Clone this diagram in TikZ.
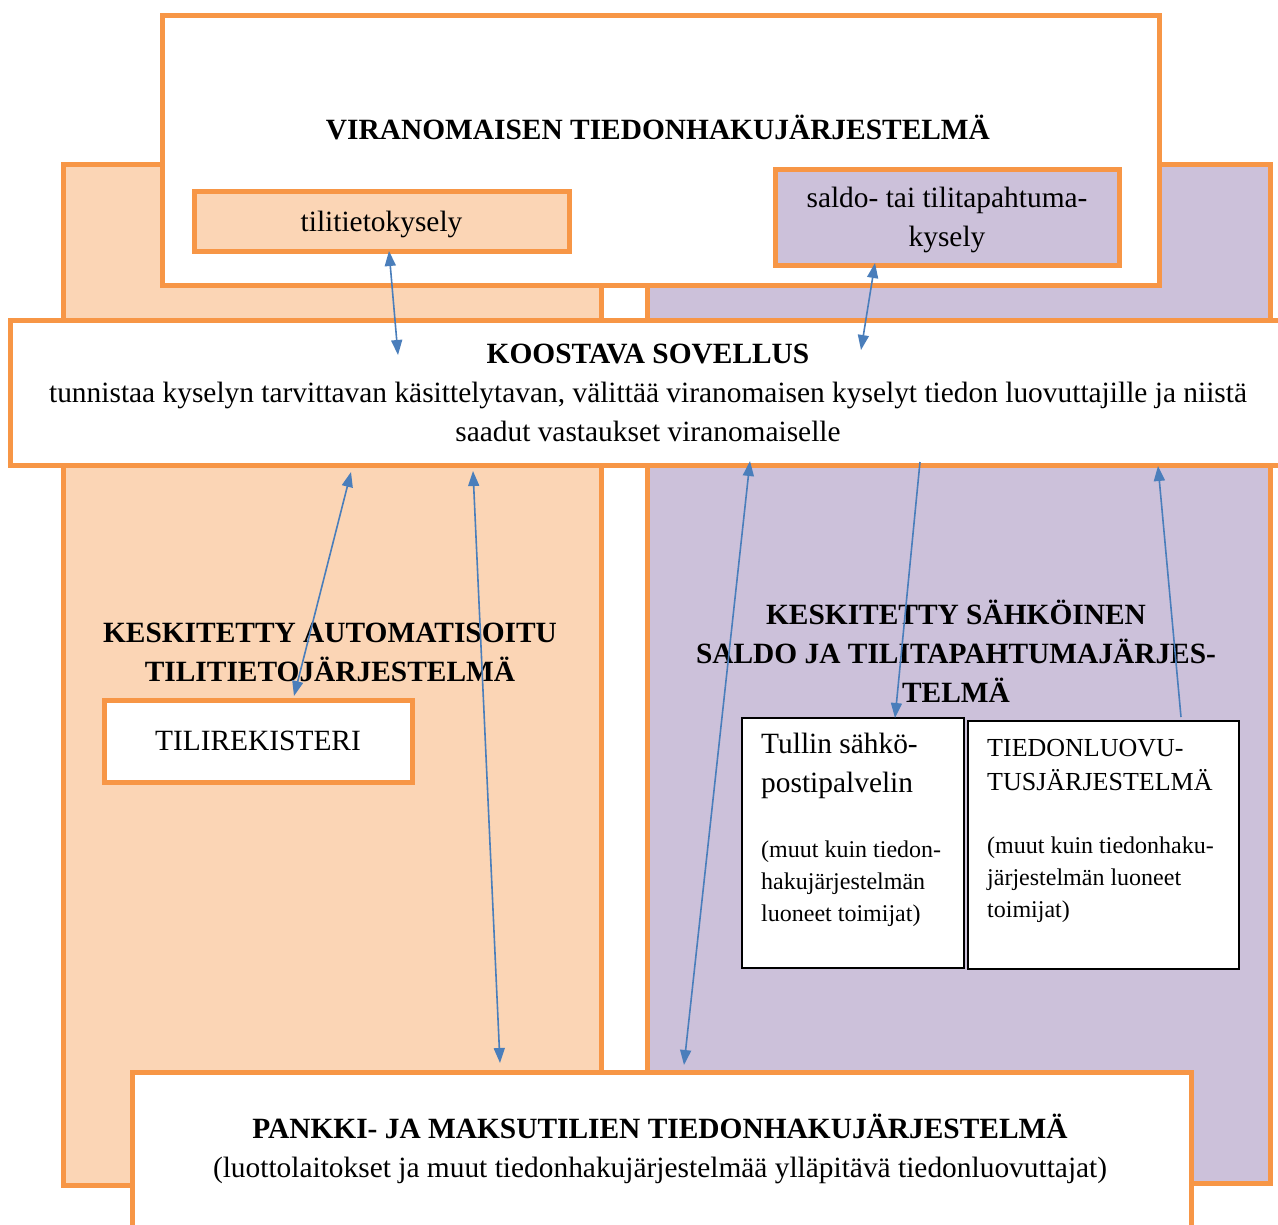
\documentclass[tikz,border=0pt]{standalone}
\usepackage{fontspec}
\setmainfont{Liberation Serif}
\usetikzlibrary{arrows.meta}
\definecolor{reuna}{HTML}{F79646}
\definecolor{persikka}{HTML}{FBD5B5}
\definecolor{laventeli}{HTML}{CCC1DA}
\definecolor{nuoli}{HTML}{4A7EBB}
\tikzset{
  laatikko/.style={draw=reuna, line width=5pt, inner sep=0pt},
  musta/.style={draw=black, line width=1.5pt, fill=white, inner sep=0pt, anchor=north west},
  iso/.style={font=\fontsize{29.4}{39}\selectfont, align=center, inner sep=0pt},
  otsikko/.style={iso, font=\fontsize{29.4}{39}\selectfont\bfseries},
  pieni/.style={font=\fontsize{24}{32}\selectfont, align=left, inner sep=0pt, anchor=west},
  yhteys/.style={draw=nuoli, line width=1.6pt},
  >={Triangle[length=15pt,width=11pt]}
}
\begin{document}
\begin{tikzpicture}[x=1pt,y=-1pt]
\useasboundingbox (0,0) rectangle (1278,1225);
\node[laatikko, fill=persikka, anchor=north west, minimum width=538pt, minimum height=1021pt] (vasen) at (61,162) {};
\node[laatikko, fill=laventeli, anchor=north west, minimum width=623pt, minimum height=1019pt] (oikea) at (645,162) {};
\node[laatikko, fill=white, anchor=north west, minimum width=997pt, minimum height=270pt] (vira) at (160,13) {};
\node[otsikko] (viraotsikko) at (658,127) {VIRANOMAISEN TIEDONHAKUJÄRJESTELMÄ};
\node[laatikko, fill=persikka, iso, minimum width=375pt, minimum height=60pt, text depth=2pt] (tili) at (381.5,222) {tilitietokysely};
\node[laatikko, fill=laventeli, iso, minimum width=344pt, minimum height=96pt, text depth=2pt] (saldo) at (947,218) {saldo- tai tilitapahtuma-\\kysely};
\node[laatikko, fill=white, iso, minimum width=1276pt, minimum height=144pt] (koost) at (648,393) {\textbf{KOOSTAVA SOVELLUS}\\tunnistaa kyselyn tarvittavan käsittelytavan, välittää viranomaisen kyselyt tiedon luovuttajille ja niistä\\saadut vastaukset viranomaiselle};
\node[laatikko, fill=white, anchor=north west, minimum width=1059pt, minimum height=170pt] (pankki) at (130,1070) {};
\node[iso] (pankkiteksti) at (660,1149) {\textbf{PANKKI- JA MAKSUTILIEN TIEDONHAKUJÄRJESTELMÄ}\\(luottolaitokset ja muut tiedonhakujärjestelmää ylläpitävä tiedonluovuttajat)};
\node[otsikko] (vasenotsikko) at (330,652) {KESKITETTY AUTOMATISOITU\\TILITIETOJÄRJESTELMÄ};
\node[laatikko, fill=white, iso, minimum width=308pt, minimum height=82pt] (rekisteri) at (258,741) {TILIREKISTERI};
\node[otsikko] (oikeaotsikko) at (956,651) {KESKITETTY SÄHKÖINEN\\SALDO JA TILITAPAHTUMAJÄRJES-\\TELMÄ};
\node[musta, minimum width=222pt, minimum height=250pt] (tulli) at (741,717) {};
\node[musta, minimum width=271pt, minimum height=248pt] (luovutus) at (967,720) {};
\node[pieni, font=\fontsize{29.4}{39}\selectfont] (tullinimi) at (761,766) {Tullin sähkö-\\postipalvelin};
\node[pieni] (tullihuom) at (761,884) {(muut kuin tiedon-\\hakujärjestelmän\\luoneet toimijat)};
\node[pieni, font=\fontsize{26}{34}\selectfont] (luovnimi) at (987,765) {TIEDONLUOVU-\\TUSJÄRJESTELMÄ};
\node[pieni] (luovhuom) at (987,880) {(muut kuin tiedonhaku-\\järjestelmän luoneet\\toimijat)};
\coordinate (A) at (389,251);
\coordinate (B) at (398,355);
\coordinate (C) at (875,263);
\coordinate (D) at (861,350);
\coordinate (E) at (351,472);
\coordinate (F) at (294,696);
\coordinate (G) at (473,471);
\coordinate (H) at (500,1063);
\coordinate (I) at (750,461);
\coordinate (J) at (684,1065);
\coordinate (K) at (920,462);
\coordinate (L) at (895,718);
\coordinate (M) at (1181,717);
\coordinate (N) at (1158,466);
\draw[yhteys, <->] (A) -- (B);
\draw[yhteys, <->] (C) -- (D);
\draw[yhteys, <->] (E) -- (F);
\draw[yhteys, <->] (G) -- (H);
\draw[yhteys, <->] (I) -- (J);
\draw[yhteys, ->] (K) -- (L);
\draw[yhteys, ->] (M) -- (N);
\end{tikzpicture}
\end{document}
